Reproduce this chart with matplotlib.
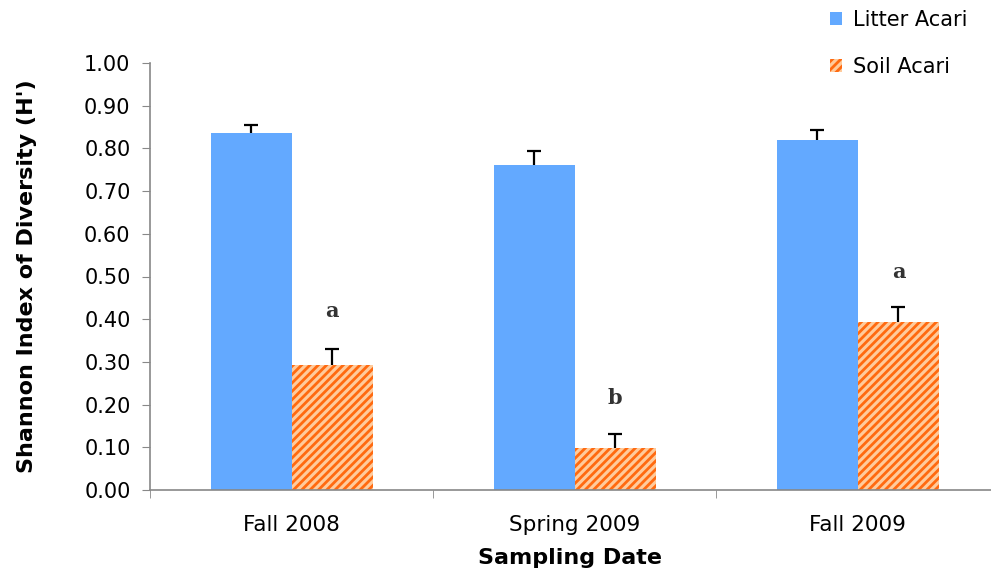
import numpy as np
import matplotlib.pyplot as plt
import matplotlib as mpl

dates = ['Fall 2008', 'Spring 2009', 'Fall 2009']
litter = [0.835, 0.762, 0.820]
litter_err = [0.020, 0.032, 0.022]
soil = [0.292, 0.098, 0.393]
soil_err = [0.038, 0.032, 0.035]
letters = ['a', 'b', 'a']
letter_y = [0.42, 0.215, 0.51]

mpl.rcParams['hatch.linewidth'] = 2.0
mpl.rcParams['font.family'] = 'DejaVu Sans'

fig = plt.figure(figsize=(9.91, 5.77), dpi=100)
ax = fig.add_axes([150 / 991, 87 / 577, 841 / 991, 427 / 577])

x = np.arange(len(dates))
w = 0.286
grey = '#888888'

ax.bar(x - w / 2, litter, w, color='#63A9FF', label='Litter Acari')
ax.bar(x + w / 2, soil, w, facecolor='#FFCB9C', hatch='////',
       edgecolor='#FF6A10', linewidth=0, label='Soil Acari')

for xs, ys, es in [(x - w / 2, litter, litter_err), (x + w / 2, soil, soil_err)]:
    eb = ax.errorbar(xs, ys, yerr=[np.zeros(3), es], fmt='none',
                     ecolor='black', elinewidth=1.6, capsize=5, capthick=1.6)
    eb[1][0].set_visible(False)  # drop the lower caps

for xi, t, yy in zip(x, letters, letter_y):
    ax.text(xi + w / 2, yy, t, ha='center', va='center', fontsize=15,
            family='DejaVu Serif', fontweight='bold', color='#333333')

ax.set_xlim(-0.5, 2.47)
ax.set_ylim(0, 1.0)
ax.set_yticks(np.arange(0, 1.01, 0.1))
ax.set_yticklabels(['%.2f' % v for v in np.arange(0, 1.01, 0.1)], fontsize=15)
ax.set_xticks(x)
ax.set_xticklabels(dates, fontsize=15.5)
ax.set_xticks([-0.5, 0.5, 1.5], minor=True)
ax.tick_params(axis='x', which='major', length=0, pad=18)
ax.tick_params(axis='x', which='minor', length=6, direction='out', color=grey)
ax.tick_params(axis='y', length=6, direction='out', color=grey, pad=8)

for s in ['top', 'right']:
    ax.spines[s].set_visible(False)
for s in ['left', 'bottom']:
    ax.spines[s].set_color(grey)
    ax.spines[s].set_linewidth(1.2)

ax.set_ylabel("Shannon Index of Diversity (H')", fontsize=16, fontweight='bold',
              labelpad=34)
ax.set_xlabel('Sampling Date', fontsize=16, fontweight='bold', labelpad=9)

fig.legend(loc='upper right', bbox_to_anchor=(0.995, 1.015), frameon=False,
           fontsize=15, handlelength=0.6, handleheight=0.6, labelspacing=1.3,
           handletextpad=0.5)

fig.savefig('out.png', dpi=100)
